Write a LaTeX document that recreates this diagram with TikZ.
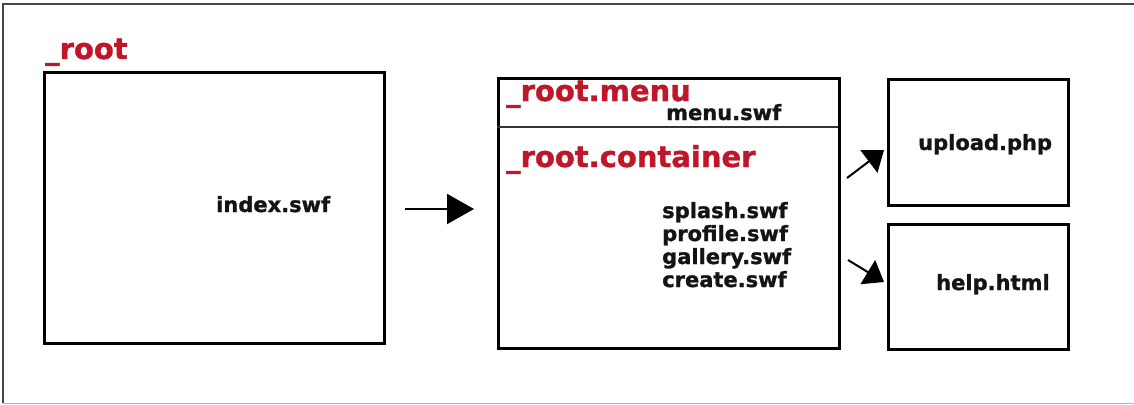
\documentclass[tikz,border=0pt]{standalone}
\usepackage{fontspec}
\setmainfont{DejaVu Sans}[BoldFeatures={FakeBold=1.2}]
\usetikzlibrary{arrows.meta}
\definecolor{labelred}{RGB}{192,22,42}
\definecolor{framegrey}{RGB}{70,70,70}
\tikzset{
  box/.style={draw=black, line width=3pt, inner sep=0pt},
  redlabel/.style={anchor=base west, inner sep=0pt, text=labelred,
    font=\fontsize{29}{31}\selectfont\bfseries},
  filelabel/.style={anchor=base west, inner sep=0pt, text=black!92,
    font=\fontsize{21}{23}\selectfont\bfseries},
  bigarrow/.style={line width=2pt, -{Triangle[length=27pt,width=30pt]}},
  diagarrow/.style={line width=2pt, -{Triangle[length=19pt,width=28pt]}},
}
\begin{document}
\begin{tikzpicture}[x=1pt,y=-1pt]
\useasboundingbox (0,0) rectangle (1134,404);
% outer frame
\draw[framegrey, line width=2pt] (1134,4) -- (3,4) -- (3,403);
\draw[framegrey!40, line width=1pt] (3,403) -- (1134,403);

% _root movie clip
\node[box, minimum width=340pt, minimum height=271pt, anchor=north west] (rootbox) at (43,71) {};
\node[redlabel] (rootlbl) at (45,59) {\_root};
\node[filelabel] (index) at (216,212) {index.swf};

% menu / container box
\node[box, minimum width=341pt, minimum height=270pt, anchor=north west] (mainbox) at (497,77) {};
\coordinate (divL) at (497,127);
\coordinate (divR) at (838,127);
\draw[black!80, line width=2pt] (divL) -- (divR);
\node[redlabel] (menulbl) at (506,101) {\_root.menu};
\node[filelabel] (menuswf) at (666,120) {menu.swf};
\node[redlabel] (contlbl) at (506,167) {\_root.container};
\node[filelabel] (splash) at (662,218) {splash.swf};
\node[filelabel] (profile) at (662,241) {profile.swf};
\node[filelabel] (gallery) at (662,264) {gallery.swf};
\node[filelabel] (create) at (662,287) {create.swf};

% external pages
\node[box, minimum width=180pt, minimum height=126pt, anchor=north west] (upbox) at (887,78) {};
\node[filelabel] (upload) at (918,150) {upload.php};
\node[box, minimum width=180pt, minimum height=125pt, anchor=north west] (helpbox) at (887,223) {};
\node[filelabel] (help) at (936,290) {help.html};

% arrows
\coordinate (a1s) at (405,209);
\coordinate (a1e) at (474,209);
\draw[bigarrow] (a1s) -- (a1e);
\coordinate (a2s) at (847,178);
\coordinate (a2e) at (884,150);
\draw[diagarrow] (a2s) -- (a2e);
\coordinate (a3s) at (848,260);
\coordinate (a3e) at (884,282);
\draw[diagarrow] (a3s) -- (a3e);
\end{tikzpicture}
\end{document}
